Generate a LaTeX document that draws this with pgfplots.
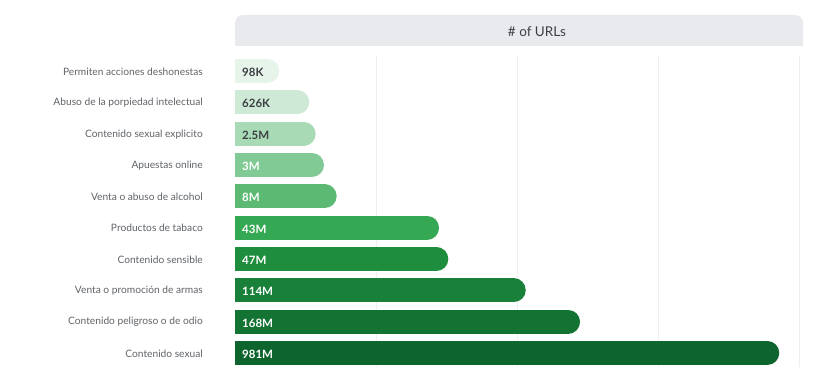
\documentclass[border=0pt]{standalone}
\usepackage{pgfplots}
\pgfplotsset{compat=1.18}
\usepackage{fontspec}
\setmainfont{Lato}
\definecolor{g1}{HTML}{E6F4EA}
\definecolor{g2}{HTML}{CEEAD6}
\definecolor{g3}{HTML}{A8DAB5}
\definecolor{g4}{HTML}{81C995}
\definecolor{g5}{HTML}{5BB974}
\definecolor{g6}{HTML}{34A853}
\definecolor{g7}{HTML}{1E8E3E}
\definecolor{g8}{HTML}{188038}
\definecolor{g9}{HTML}{137333}
\definecolor{g10}{HTML}{0D652D}
\definecolor{hdr}{HTML}{E8EAED}
\definecolor{lblgray}{HTML}{5F6368}
\definecolor{darktxt}{HTML}{3C4043}
\definecolor{gridc}{HTML}{EFEFEF}
\begin{document}
\begin{tikzpicture}
\useasboundingbox (0,0) rectangle (838pt,390pt);
% header
\fill[hdr, rounded corners=8pt] (235pt,344pt) rectangle (803pt,375pt);
\fill[hdr] (235pt,344pt) rectangle (803pt,360pt);
\node[text=darktxt, font=\fontsize{13.5}{15}\selectfont] at (537pt,358pt) {\# of URLs};
\begin{axis}[
  at={(235pt,23pt)}, anchor=south west,
  scale only axis, width=564pt, height=311pt,
  xmin=0, xmax=4, ymin=-0.479, ymax=9.447, y dir=reverse,
  axis line style={draw=none},
  major tick length=0pt,
  xtick={1,2,3,4}, xticklabels={},
  xmajorgrids, grid style={gridc, line width=0.8pt},
  ytick={0,...,9},
  yticklabels={Permiten acciones deshonestas, Abuso de la porpiedad intelectual, Contenido sexual explicito, Apuestas online, Venta o abuso de alcohol, Productos de tabaco, Contenido sensible, Venta o promoción de armas, Contenido peligroso o de odio, Contenido sexual},
  yticklabel style={anchor=east, inner sep=0pt, xshift=-32pt, yshift=-0.5pt, text=lblgray, font=\fontsize{10.2}{12}\selectfont},
]
\addplot[draw=g1, line width=24pt, line cap=round] coordinates {(-0.3,0) (0.229,0)};
\addplot[draw=g2, line width=24pt, line cap=round] coordinates {(-0.3,1) (0.442,1)};
\addplot[draw=g3, line width=24pt, line cap=round] coordinates {(-0.3,2) (0.487,2)};
\addplot[draw=g4, line width=24pt, line cap=round] coordinates {(-0.3,3) (0.546,3)};
\addplot[draw=g5, line width=24pt, line cap=round] coordinates {(-0.3,4) (0.636,4)};
\addplot[draw=g6, line width=24pt, line cap=round] coordinates {(-0.3,5) (1.362,5)};
\addplot[draw=g7, line width=24pt, line cap=round] coordinates {(-0.3,6) (1.428,6)};
\addplot[draw=g8, line width=24pt, line cap=round] coordinates {(-0.3,7) (1.977,7)};
\addplot[draw=g9, line width=24pt, line cap=round] coordinates {(-0.3,8) (2.362,8)};
\addplot[draw=g10, line width=24pt, line cap=round] coordinates {(-0.3,9) (3.775,9)};
\addplot[only marks, mark=none, nodes near coords, point meta=explicit symbolic,
  nodes near coords style={anchor=west, xshift=7pt, yshift=-1.5pt, inner sep=0pt, text=darktxt, font=\bfseries\fontsize{11.5}{13}\selectfont}]
  table[meta=label] {
x y label
0 0 98K
0 1 626K
0 2 2.5M
};
\addplot[only marks, mark=none, nodes near coords, point meta=explicit symbolic,
  nodes near coords style={anchor=west, xshift=7pt, yshift=-1.5pt, inner sep=0pt, text=white, font=\bfseries\fontsize{11.5}{13}\selectfont}]
  table[meta=label] {
x y label
0 3 3M
0 4 8M
0 5 43M
0 6 47M
0 7 114M
0 8 168M
0 9 981M
};
\end{axis}
\end{tikzpicture}
\end{document}
